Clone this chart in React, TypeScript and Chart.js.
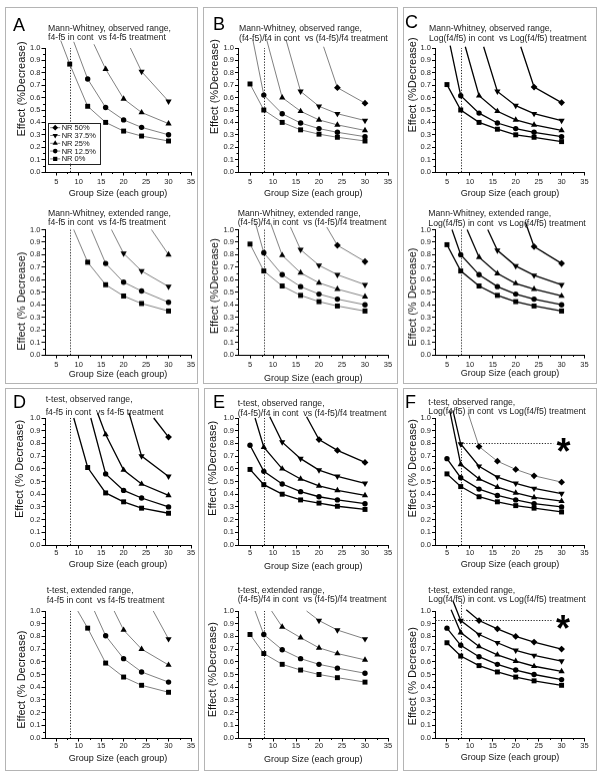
import React, { useEffect, useRef } from "react";
import { Chart, registerables } from "chart.js";

Chart.register(...registerables);

const FONT = '"Liberation Sans", Arial, Helvetica, sans-serif';

// ---------------- data ----------------
const GROUP_SIZES = [5, 8, 12, 16, 20, 24, 30];
const SERIES_NAMES = ["NR 50%", "NR 37.5%", "NR 25%", "NR 12.5%", "NR 0%"];
const X_TICKS = [5, 10, 15, 20, 25, 30, 35];
const X_MINOR_TICKS = [7.5, 12.5, 17.5, 22.5, 27.5, 32.5];
const Y_TICKS = [0, 0.1, 0.2, 0.3, 0.4, 0.5, 0.6, 0.7, 0.8, 0.9, 1.0];
const Y_MINOR_TICKS = [0.05, 0.15, 0.25, 0.35, 0.45, 0.55, 0.65, 0.75, 0.85, 0.95];
const X_RANGE = [2.5, 35];
const Y_RANGE = [0, 1];
const MIN_GROUP_SIZE = 8;

// rows: NR 50%, NR 37.5%, NR 25%, NR 12.5%, NR 0% ; columns: GROUP_SIZES (null = above the plot)
const A_OBSERVED = [
  [null, null, null, null, null, null, null],
  [null, null, null, null, null, 0.81, 0.57],
  [null, null, null, 0.83, 0.59, 0.48, 0.39],
  [null, null, 0.75, 0.52, 0.42, 0.36, 0.3],
  [null, 0.87, 0.53, 0.4, 0.33, 0.29, 0.25],
];
// where each curve enters from above the plot: [group size, effect]
const A_OBSERVED_LEAD = [null, [21.5, 1.0], [13.4, 1.03], [8.9, 1.05], [6.0, 1.06]];

const A_EXTENDED = [
  [null, null, null, null, null, null, null],
  [null, null, null, null, 0.81, 0.67, 0.545],
  [null, null, null, null, null, null, 0.8],
  [null, null, null, 0.73, 0.58, 0.51, 0.42],
  [null, null, 0.74, 0.56, 0.47, 0.41, 0.35],
];
const A_EXTENDED_LEAD = [null, [17.3, 1.0], [26.2, 1.0], [12.8, 1.0], [8.9, 1.0]];

const B_OBSERVED = [
  [null, null, null, null, null, 0.68, 0.555],
  [null, null, null, 0.65, 0.53, 0.47, 0.415],
  [null, null, 0.6, 0.49, 0.42, 0.38, 0.335],
  [null, 0.62, 0.47, 0.395, 0.35, 0.32, 0.285],
  [0.71, 0.5, 0.4, 0.34, 0.305, 0.28, 0.25],
];
const B_OBSERVED_LEAD = [[21.0, 1.01], [12.8, 1.07], [8.6, 1.07], [5.6, 1.07], null];

const B_EXTENDED = [
  [null, null, null, null, null, 0.875, 0.745],
  [null, null, null, 0.84, 0.715, 0.64, 0.56],
  [null, null, 0.795, 0.655, 0.575, 0.525, 0.465],
  [null, 0.815, 0.64, 0.545, 0.485, 0.445, 0.4],
  [0.885, 0.67, 0.55, 0.475, 0.425, 0.39, 0.35],
];
const B_EXTENDED_LEAD = [[21.7, 1.02], [13.8, 1.02], [9.5, 1.05], [6.2, 1.05], null];

const C_OBSERVED = [
  [null, null, null, null, null, 0.685, 0.56],
  [null, null, null, 0.65, 0.535, 0.47, 0.415],
  [null, null, 0.615, 0.49, 0.42, 0.38, 0.335],
  [null, 0.615, 0.475, 0.395, 0.35, 0.32, 0.285],
  [0.705, 0.5, 0.4, 0.345, 0.3, 0.28, 0.245],
];
const C_OBSERVED_LEAD = [[21.1, 1.01], [13.0, 1.01], [9.0, 1.01], [5.7, 1.02], null];

const C_EXTENDED = [
  [null, null, null, null, null, 0.865, 0.73],
  [null, null, null, 0.835, 0.71, 0.635, 0.56],
  [null, null, 0.78, 0.65, 0.57, 0.525, 0.47],
  [null, 0.8, 0.64, 0.545, 0.485, 0.445, 0.4],
  [0.88, 0.67, 0.55, 0.475, 0.425, 0.39, 0.35],
];
const C_EXTENDED_LEAD = [[22.1, 1.06], [13.9, 1.0], [9.4, 1.0], [6.1, 1.0], null];

const D_OBSERVED = [
  [null, null, null, null, null, null, 0.85],
  [null, null, null, null, null, 0.7, 0.54],
  [null, null, null, 0.87, 0.59, 0.48, 0.39],
  [null, null, null, 0.56, 0.43, 0.37, 0.3],
  [null, null, 0.61, 0.41, 0.34, 0.29, 0.25],
];
const D_OBSERVED_LEAD = [[26.7, 1.0], [21.2, 1.04], [14.2, 1.04], [12.7, 1.0], [8.9, 1.0]];

const D_EXTENDED = [
  [null, null, null, null, null, null, null],
  [null, null, null, null, null, null, 0.78],
  [null, null, null, null, 0.85, 0.7, 0.575],
  [null, null, null, 0.805, 0.625, 0.52, 0.44],
  [null, null, 0.865, 0.59, 0.48, 0.415, 0.36],
];
const D_EXTENDED_LEAD = [null, [26.6, 1.0], [17.9, 1.0], [13.5, 1.0], [9.8, 1.0]];

const E_OBSERVED = [
  [null, null, null, null, 0.83, 0.745, 0.65],
  [null, null, 0.81, 0.68, 0.59, 0.54, 0.485],
  [null, 0.77, 0.6, 0.52, 0.465, 0.43, 0.39],
  [0.785, 0.58, 0.48, 0.42, 0.38, 0.355, 0.325],
  [0.595, 0.475, 0.4, 0.355, 0.33, 0.305, 0.28],
];
const E_OBSERVED_LEAD = [[17.3, 1.01], [9.3, 1.01], [6.1, 1.0], null, null];

const E_EXTENDED = [
  [null, null, null, null, null, null, null],
  [null, null, null, null, 0.925, 0.85, 0.78],
  [null, null, 0.875, 0.79, 0.71, 0.665, 0.615],
  [null, 0.815, 0.695, 0.625, 0.58, 0.55, 0.51],
  [0.815, 0.665, 0.58, 0.535, 0.5, 0.475, 0.44],
];
const E_EXTENDED_LEAD = [null, [17.3, 1.0], [9.7, 1.0], [6.1, 1.0], null];

const F_OBSERVED = [
  [null, null, 0.775, 0.66, 0.595, 0.545, 0.495],
  [null, 0.795, 0.62, 0.535, 0.485, 0.445, 0.405],
  [null, 0.635, 0.52, 0.455, 0.41, 0.375, 0.345],
  [0.68, 0.53, 0.44, 0.39, 0.355, 0.325, 0.3],
  [0.56, 0.46, 0.38, 0.34, 0.31, 0.29, 0.26],
];
const F_OBSERVED_LEAD = [[9.6, 1.04], [6.3, 1.06], [5.6, 1.06], null, null];

const F_EXTENDED = [
  [null, null, 0.925, 0.86, 0.8, 0.755, 0.7],
  [null, 0.925, 0.815, 0.75, 0.69, 0.65, 0.605],
  [null, 0.83, 0.72, 0.655, 0.605, 0.565, 0.525],
  [0.865, 0.73, 0.64, 0.58, 0.535, 0.5, 0.46],
  [0.75, 0.645, 0.57, 0.52, 0.48, 0.45, 0.415],
];
const F_EXTENDED_LEAD = [[9.2, 1.01], [6.3, 1.08], [5.9, 1.01], null, null];

// marked effect levels (dotted guide + asterisk) in panel F: [effect, guide start, guide end, asterisk x]
const F_OBSERVED_MARK = [0.8, 8, 28.2, 30.4];
const F_EXTENDED_MARK = [0.93, 2.5, 28.2, 30.3];

// ---------------- text ----------------
const MW_OBS = "Mann-Whitney, observed range,";
const MW_EXT = "Mann-Whitney, extended range,";
const TT_OBS = "t-test, observed range,";
const TT_EXT = "t-test, extended range,";
const CMP_A = "f4-f5 in cont  vs f4-f5 treatment";
const CMP_B = "(f4-f5)/f4 in cont  vs (f4-f5)/f4 treatment";
const CMP_C = "Log(f4/f5) in cont  vs Log(f4/f5) treatment";
const CMP_F_EXT = "Log(f4/f5) in cont. vs Log(f4/f5) treatment";
const X_TITLE = "Group Size (each group)";
const Y1 = "Effect (%Decrease)";
const Y2 = "Effect (% Decrease)";
const PANEL_LETTERS = ["A", "B", "C", "D", "E", "F"];

// ---------------- styles / layout ----------------
const GRAY = "#808080";
const BLACK = "#000000";

const MARKERS = [
  { style: "rectRot", rotation: 0, r: 3.4 },
  { style: "triangle", rotation: 180, r: 3.6 },
  { style: "triangle", rotation: 0, r: 3.6 },
  { style: "circle", rotation: 0, r: 2.7 },
  { style: "rect", rotation: 0, r: 3.5 },
];

const COLS = [
  { canvasLeft: 6, canvasRight: 197, chartLeft: 45, chartRight: 191 },
  { canvasLeft: 204, canvasRight: 396, chartLeft: 238.5, chartRight: 388 },
  { canvasLeft: 404, canvasRight: 596, chartLeft: 435.5, chartRight: 584.5 },
];
const ROWS = [
  { canvasTop: 26, chartTop: 48, chartBottom: 172, tickPad: 1.5 },
  { canvasTop: 207, chartTop: 229.5, chartBottom: 354.5, tickPad: 1.5 },
  { canvasTop: 396, chartTop: 418, chartBottom: 545, tickPad: 0 },
  { canvasTop: 589, chartTop: 611, chartBottom: 738, tickPad: 0 },
];

const FRAMES = [
  { left: 5, top: 7, right: 198, bottom: 384 },
  { left: 203, top: 7, right: 398, bottom: 384 },
  { left: 403, top: 7, right: 597, bottom: 384 },
  { left: 5, top: 388, right: 199, bottom: 771 },
  { left: 204, top: 388, right: 398, bottom: 771 },
  { left: 403, top: 388, right: 597, bottom: 771 },
];
const LETTER_POS = [
  [13, 16],
  [213, 14.5],
  [405, 13],
  [13, 393.3],
  [213, 392.7],
  [405, 392.7],
];

type Sub = {
  id: string;
  col: number;
  row: number;
  data: (number | null)[][];
  lead: (number[] | null)[];
  title: string[];
  yTitle: string;
  titlePos: number[];
  yTitlePos: number[];
  xTitleGap: number;
  colors: string[];
  widths: number[];
  vTop: number;
  mark?: number[];
  legend?: boolean;
};

const G5 = [GRAY, GRAY, GRAY, GRAY, GRAY];
const K5 = [BLACK, BLACK, BLACK, BLACK, BLACK];
const W_THIN = [1, 1, 1, 1, 1];
const W_BOLD = [1.3, 1.3, 1.3, 1.3, 1.3];

const SUBPLOTS: Sub[] = [
  { id: "A1", col: 0, row: 0, data: A_OBSERVED, lead: A_OBSERVED_LEAD, title: [MW_OBS, CMP_A], yTitle: Y1,
    titlePos: [48, 29.3, 9], yTitlePos: [22, 89], xTitleGap: 21.5, colors: G5, widths: W_THIN, vTop: 1.0, legend: true },
  { id: "A2", col: 0, row: 1, data: A_EXTENDED, lead: A_EXTENDED_LEAD, title: [MW_EXT, CMP_A], yTitle: Y2,
    titlePos: [48, 214, 9.3], yTitlePos: [21.7, 300.7], xTitleGap: 19.5, colors: G5, widths: W_THIN, vTop: 1.0 },
  { id: "B1", col: 1, row: 0, data: B_OBSERVED, lead: B_OBSERVED_LEAD, title: [MW_OBS, CMP_B], yTitle: Y1,
    titlePos: [239, 28.3, 10], yTitlePos: [215, 86.7], xTitleGap: 22, colors: G5, widths: W_THIN, vTop: 1.0 },
  { id: "B2", col: 1, row: 1, data: B_EXTENDED, lead: B_EXTENDED_LEAD, title: [MW_EXT, CMP_B], yTitle: Y1,
    titlePos: [237.7, 214, 9.3], yTitlePos: [215, 285.7], xTitleGap: 23.8, colors: G5, widths: W_THIN, vTop: 1.0 },
  { id: "C1", col: 2, row: 0, data: C_OBSERVED, lead: C_OBSERVED_LEAD, title: [MW_OBS, CMP_C], yTitle: Y1,
    titlePos: [429, 28.3, 10], yTitlePos: [412.7, 85], xTitleGap: 21.3, colors: K5, widths: W_BOLD, vTop: 1.0 },
  { id: "C2", col: 2, row: 1, data: C_EXTENDED, lead: C_EXTENDED_LEAD, title: [MW_EXT, CMP_C], yTitle: Y2,
    titlePos: [428.3, 213.3, 10], yTitlePos: [412.7, 296.7], xTitleGap: 18.8, colors: K5, widths: W_BOLD, vTop: 1.0 },
  { id: "D1", col: 0, row: 2, data: D_OBSERVED, lead: D_OBSERVED_LEAD, title: [TT_OBS, CMP_A], yTitle: Y2,
    titlePos: [45.7, 400, 12.5], yTitlePos: [20, 469], xTitleGap: 20, colors: K5, widths: W_BOLD, vTop: 1.0 },
  { id: "D2", col: 0, row: 3, data: D_EXTENDED, lead: D_EXTENDED_LEAD, title: [TT_EXT, CMP_A], yTitle: Y2,
    titlePos: [46.7, 590.7, 10], yTitlePos: [21.7, 679.7], xTitleGap: 21, colors: G5, widths: W_THIN, vTop: 1.0 },
  { id: "E1", col: 1, row: 2, data: E_OBSERVED, lead: E_OBSERVED_LEAD, title: [TT_OBS, CMP_B], yTitle: Y1,
    titlePos: [237.7, 403.3, 10], yTitlePos: [213.3, 468.3], xTitleGap: 21.7, colors: K5, widths: W_BOLD, vTop: 1.0 },
  { id: "E2", col: 1, row: 3, data: E_EXTENDED, lead: E_EXTENDED_LEAD, title: [TT_EXT, CMP_B], yTitle: Y1,
    titlePos: [237.7, 590.7, 9], yTitlePos: [213.3, 669.7], xTitleGap: 21.7, colors: G5, widths: W_THIN, vTop: 1.0 },
  { id: "F1", col: 2, row: 2, data: F_OBSERVED, lead: F_OBSERVED_LEAD, title: [TT_OBS, CMP_C], yTitle: Y2,
    titlePos: [428.3, 403.3, 9], yTitlePos: [412.7, 468.3], xTitleGap: 20,
    colors: [GRAY, BLACK, BLACK, BLACK, BLACK], widths: [1, 1.3, 1.3, 1.3, 1.3], vTop: 0.8, mark: F_OBSERVED_MARK },
  { id: "F2", col: 2, row: 3, data: F_EXTENDED, lead: F_EXTENDED_LEAD, title: [TT_EXT, CMP_F_EXT], yTitle: Y2,
    titlePos: [428.3, 590.7, 9], yTitlePos: [413.3, 676.3], xTitleGap: 20, colors: K5, widths: W_BOLD, vTop: 1.08,
    mark: F_EXTENDED_MARK },
];

const CANVAS_EXTRA_BOTTOM = 34;
const X_SCALE_H = 32;

function drawMarker(ctx: CanvasRenderingContext2D, idx: number, x: number, y: number, r: number) {
  ctx.beginPath();
  const m = MARKERS[idx];
  if (m.style === "circle") {
    ctx.arc(x, y, r, 0, Math.PI * 2);
  } else if (m.style === "rect") {
    const s = r * Math.SQRT1_2;
    ctx.rect(x - s, y - s, 2 * s, 2 * s);
  } else if (m.style === "rectRot") {
    ctx.moveTo(x, y - r);
    ctx.lineTo(x + r, y);
    ctx.lineTo(x, y + r);
    ctx.lineTo(x - r, y);
    ctx.closePath();
  } else {
    let a = (m.rotation * Math.PI) / 180;
    for (let k = 0; k < 3; k++) {
      const px = x + Math.sin(a) * r;
      const py = y - Math.cos(a) * r;
      if (k === 0) ctx.moveTo(px, py);
      else ctx.lineTo(px, py);
      a += (2 * Math.PI) / 3;
    }
    ctx.closePath();
  }
  ctx.fill();
}

function SubChart({ sp }: { sp: Sub }) {
  const ref = useRef<HTMLCanvasElement>(null);
  const col = COLS[sp.col];
  const row = ROWS[sp.row];
  const cw = col.canvasRight - col.canvasLeft;
  const ch = row.chartBottom + CANVAS_EXTRA_BOTTOM - row.canvasTop;

  useEffect(() => {
    const ox = col.canvasLeft;
    const oy = row.canvasTop;
    const datasets = SERIES_NAMES.map((name, si) => {
      const pts: { x: number; y: number }[] = [];
      const radii: number[] = [];
      const lead = sp.lead[si];
      if (lead) {
        pts.push({ x: lead[0], y: lead[1] });
        radii.push(0);
      }
      GROUP_SIZES.forEach((g, gi) => {
        const v = sp.data[si][gi];
        if (v !== null && v !== undefined) {
          pts.push({ x: g, y: v });
          radii.push(MARKERS[si].r);
        }
      });
      return {
        label: name,
        data: pts,
        showLine: true,
        tension: 0,
        fill: false,
        borderColor: sp.colors[si],
        borderWidth: sp.widths[si],
        backgroundColor: "#000",
        pointStyle: MARKERS[si].style,
        pointRotation: MARKERS[si].rotation,
        pointRadius: radii,
        pointHoverRadius: radii,
        pointHitRadius: 0,
        pointBackgroundColor: "#000",
        pointBorderColor: "#000",
        pointBorderWidth: 0,
        clip: false,
      };
    });

    const extras = {
      id: "extras" + sp.id,
      beforeDatasetsDraw(chart: any) {
        const { ctx } = chart;
        const xs = chart.scales.x;
        const ys = chart.scales.y;
        ctx.save();
        ctx.strokeStyle = "#222";
        ctx.lineWidth = 1;
        ctx.setLineDash([1.2, 1.6]);
        const px = Math.round(xs.getPixelForValue(MIN_GROUP_SIZE)) + 0.5;
        ctx.beginPath();
        ctx.moveTo(px, ys.getPixelForValue(0));
        ctx.lineTo(px, ys.getPixelForValue(sp.vTop));
        ctx.stroke();
        if (sp.mark) {
          const py = Math.round(ys.getPixelForValue(sp.mark[0])) + 0.5;
          ctx.beginPath();
          ctx.moveTo(xs.getPixelForValue(sp.mark[1]), py);
          ctx.lineTo(xs.getPixelForValue(sp.mark[2]), py);
          ctx.stroke();
        }
        ctx.restore();
      },
      afterDraw(chart: any) {
        const { ctx, chartArea } = chart;
        const xs = chart.scales.x;
        const ys = chart.scales.y;
        ctx.save();
        // minor ticks
        ctx.strokeStyle = "#000";
        ctx.lineWidth = 1;
        ctx.beginPath();
        X_MINOR_TICKS.forEach((v) => {
          const p = Math.round(xs.getPixelForValue(v)) + 0.5;
          ctx.moveTo(p, chartArea.bottom);
          ctx.lineTo(p, chartArea.bottom + 2);
        });
        Y_MINOR_TICKS.forEach((v) => {
          const p = Math.round(ys.getPixelForValue(v)) + 0.5;
          ctx.moveTo(chartArea.left, p);
          ctx.lineTo(chartArea.left - 2, p);
        });
        ctx.stroke();
        // y axis title
        ctx.save();
        ctx.translate(sp.yTitlePos[0] - ox, sp.yTitlePos[1] - oy);
        ctx.rotate(-Math.PI / 2);
        ctx.fillStyle = "#111";
        ctx.font = `11px ${FONT}`;
        ctx.textAlign = "center";
        ctx.textBaseline = "middle";
        ctx.fillText(sp.yTitle, 0, 0);
        ctx.restore();
        // asterisk
        if (sp.mark) {
          const sx = xs.getPixelForValue(sp.mark[3]);
          const sy = ys.getPixelForValue(sp.mark[0]);
          ctx.fillStyle = "#000";
          ctx.font = `bold 36px ${FONT}`;
          ctx.textAlign = "center";
          ctx.textBaseline = "alphabetic";
          ctx.fillText("*", sx, sy + 0.58 * 36);
        }
        // legend
        if (sp.legend) {
          const bx = 47.7 - ox;
          const by = 122.7 - oy;
          const bw = 52.3;
          const bh = 40.6;
          ctx.fillStyle = "#fff";
          ctx.fillRect(bx, by, bw, bh);
          ctx.strokeStyle = "#222";
          ctx.lineWidth = 1;
          ctx.strokeRect(Math.round(bx) + 0.5, Math.round(by) + 0.5, Math.round(bw), Math.round(bh));
          SERIES_NAMES.forEach((name, i) => {
            const yy = by + 5 + i * 7.8;
            ctx.strokeStyle = sp.colors[i];
            ctx.lineWidth = 1;
            ctx.beginPath();
            ctx.moveTo(bx + 2.5, yy);
            ctx.lineTo(bx + 12.5, yy);
            ctx.stroke();
            ctx.fillStyle = "#000";
            drawMarker(ctx, i, bx + 7.5, yy, MARKERS[i].r * 0.85);
            ctx.fillStyle = "#111";
            ctx.font = `7.5px ${FONT}`;
            ctx.textAlign = "left";
            ctx.textBaseline = "middle";
            ctx.fillText(name, bx + 14, yy + 0.5);
          });
        }
        ctx.restore();
      },
    };

    const tickFont = { size: 7.5, family: FONT };
    const axisCommon = {
      type: "linear" as const,
      grid: {
        display: true,
        drawOnChartArea: false,
        drawTicks: true,
        tickLength: 3.5,
        tickColor: "#000",
        tickWidth: 1,
      },
      border: { display: true, color: "#000", width: 1 },
    };

    const chart = new Chart(ref.current as HTMLCanvasElement, {
      type: "scatter",
      data: { datasets: datasets as any },
      options: {
        animation: false,
        responsive: false,
        maintainAspectRatio: false,
        devicePixelRatio: 1,
        events: [],
        layout: {
          padding: {
            left: 2,
            right: col.canvasRight - col.chartRight,
            top: row.chartTop - row.canvasTop,
            bottom: 2,
          },
        },
        plugins: {
          legend: { display: false },
          tooltip: { enabled: false },
          title: { display: false },
        },
        scales: {
          x: {
            ...axisCommon,
            min: X_RANGE[0],
            max: X_RANGE[1],
            afterBuildTicks: (s: any) => {
              s.ticks = X_TICKS.map((v) => ({ value: v }));
            },
            afterFit: (s: any) => {
              s.height = X_SCALE_H;
            },
            ticks: {
              color: "#222",
              font: tickFont,
              padding: row.tickPad,
              autoSkip: false,
              maxRotation: 0,
              callback: (v: any) => String(v),
            },
            title: {
              display: true,
              text: X_TITLE,
              color: "#111",
              font: { size: 9, family: FONT },
              padding: { top: 0, bottom: Math.max(0, X_SCALE_H - 5.4 - sp.xTitleGap) },
            },
          },
          y: {
            ...axisCommon,
            min: Y_RANGE[0],
            max: Y_RANGE[1],
            afterBuildTicks: (s: any) => {
              s.ticks = Y_TICKS.map((v) => ({ value: v }));
            },
            afterFit: (s: any) => {
              s.width = col.chartLeft - col.canvasLeft - 2;
            },
            ticks: {
              color: "#222",
              font: tickFont,
              padding: 1,
              autoSkip: false,
              callback: (v: any) => Number(v).toFixed(1),
            },
            title: { display: false },
          },
        },
      } as any,
      plugins: [extras],
    });
    return () => chart.destroy();
  }, []);

  return (
    <canvas
      ref={ref}
      width={cw}
      height={ch}
      style={{ position: "absolute", left: col.canvasLeft, top: row.canvasTop, width: cw, height: ch }}
    />
  );
}

export default function App() {
  return (
    <div
      style={{
        position: "absolute",
        left: 0,
        top: 0,
        width: 602,
        height: 778,
        background: "#fff",
        fontFamily: FONT,
        overflow: "hidden",
      }}
    >
      {FRAMES.map((f, i) => (
        <div
          key={"f" + i}
          style={{
            position: "absolute",
            left: f.left,
            top: f.top,
            width: f.right - f.left,
            height: f.bottom - f.top,
            border: "1px solid #b4b4b4",
            boxSizing: "border-box",
          }}
        />
      ))}
      {SUBPLOTS.map((sp) => (
        <SubChart key={sp.id} sp={sp} />
      ))}
      {SUBPLOTS.map((sp) => (
        <div
          key={"t" + sp.id}
          style={{
            position: "absolute",
            left: sp.titlePos[0],
            top: sp.titlePos[1] - sp.titlePos[2] / 2 - 0.7,
            fontSize: 8.7,
            lineHeight: sp.titlePos[2] + "px",
            whiteSpace: "pre",
            color: "#222",
          }}
        >
          {sp.title[0]}
          <br />
          {sp.title[1]}
        </div>
      ))}
      {PANEL_LETTERS.map((L, i) => (
        <div
          key={"l" + L}
          style={{
            position: "absolute",
            left: LETTER_POS[i][0],
            top: LETTER_POS[i][1],
            fontSize: 18,
            lineHeight: "18px",
            color: "#000",
          }}
        >
          {L}
        </div>
      ))}
    </div>
  );
}
